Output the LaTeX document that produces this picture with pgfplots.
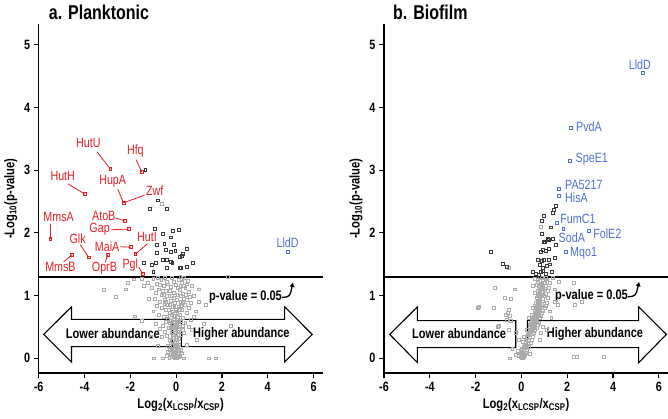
\documentclass[border=0pt]{standalone}
\usepackage{fontspec}
\setmainfont[FakeStretch=0.8]{Liberation Sans}
\usepackage{pgfplots}
\pgfplotsset{compat=1.18}
\usetikzlibrary{arrows.meta}
\definecolor{sigred}{RGB}{228,30,36}
\definecolor{sigblue}{RGB}{80,110,215}
\definecolor{ptgrey}{RGB}{170,170,170}
\definecolor{ptdark}{RGB}{55,55,55}
\pgfplotsset{
 volc/.style={
  scale only axis, width=284pt, height=349.2pt,
  xmin=-6, xmax=6.4, ymin=-0.24, ymax=5.33,
  axis x line*=bottom, axis y line*=left,
  axis line style={line width=1.6pt},
  xtick={-6,-4,...,6}, ytick={0,...,5},
  tick align=outside, major tick length=5pt,
  tick style={line width=1.2pt, black},
  ticklabel style={font=\bfseries\fontsize{13.5}{14}\selectfont},
  /pgf/number format/assume math mode=true,
  xlabel={Log\textsubscript{2}(x\textsubscript{LCSP}/x\textsubscript{CSP})},
  ylabel={-Log\textsubscript{10}(p-value)},
  label style={font=\bfseries\fontsize{14}{15}\selectfont},
  clip=false,
 },
 gpt/.style={only marks, mark=square, mark size=1.45pt, mark options={ptgrey, line width=0.5pt}},
 dpt/.style={only marks, mark=square, mark size=1.45pt, mark options={ptdark, line width=0.5pt}},
 rpt/.style={only marks, mark=square, mark size=1.45pt, mark options={sigred, line width=0.7pt}},
 bpt/.style={only marks, mark=square, mark size=1.45pt, mark options={sigblue, line width=0.7pt}},
}
\tikzset{
 glab/.style={font=\fontsize{13.4}{14}\selectfont, inner sep=0pt},
 arr/.style={draw=black, line width=1.1pt},
 atxt/.style={font=\bfseries\fontsize{13.8}{15}\selectfont},
}
\begin{document}
\begin{tikzpicture}
\useasboundingbox (-38.7pt,-45.7pt) rectangle (629.3pt,373.3pt);
% ---------------- Panel a ----------------
\begin{axis}[volc]
\draw[arr] (axis cs:-5.78,0.38) -- (axis cs:-4.57,0.82) -- (axis cs:-4.57,0.62) -- (axis cs:-0.17,0.62) -- (axis cs:-0.17,0.185) -- (axis cs:-4.57,0.185) -- (axis cs:-4.57,-0.06) -- cycle;
\draw[arr] (axis cs:0.23,0.62) -- (axis cs:4.74,0.62) -- (axis cs:4.74,0.82) -- (axis cs:5.94,0.38) -- (axis cs:4.74,-0.06) -- (axis cs:4.74,0.185) -- (axis cs:0.23,0.185) -- cycle;
\addplot[gpt] coordinates {
(-0.05,0.00) (-0.12,0.02) (0.03,0.01) (-0.20,0.03) (0.10,0.02) (-0.30,0.01) (0.18,0.04) (-0.08,0.05) (0.00,0.07) (-0.15,0.08) (0.06,0.09) (-0.25,0.06) (-0.02,0.11) (-0.10,0.13) (0.12,0.12) (-0.18,0.15) (0.04,0.16) (-0.35,0.10) (0.22,0.14) (-0.06,0.18) (-0.13,0.20) (0.08,0.19) (-0.40,0.04) (-0.98,0.00) (1.42,0.00) (1.72,0.00) (-0.60,0.00) (0.35,0.00)
(-0.22,0.24) (-0.05,0.25) (0.05,0.27) (-0.30,0.30) (0.12,0.31) (-0.12,0.33) (-0.40,0.36) (0.00,0.35) (0.20,0.38) (-0.20,0.40) (-0.50,0.42) (0.08,0.43) (-0.08,0.45) (0.30,0.46) (-0.32,0.48) (0.15,0.50) (-0.60,0.52) (-0.15,0.53) (0.02,0.55) (0.40,0.56) (-0.45,0.58) (-0.25,0.60) (0.22,0.59) (-0.70,0.47) (-0.90,0.55) (0.55,0.50) (0.70,0.45) (-1.10,0.35) (0.90,0.30) (2.37,0.52) (-0.80,0.20) (0.45,0.22) (-1.50,0.60) (1.20,0.55)
(-0.35,0.63) (0.05,0.62) (0.30,0.65) (-0.55,0.66) (-0.10,0.68) (0.15,0.70) (-0.75,0.70) (0.45,0.72) (-0.28,0.73) (0.00,0.75) (-0.45,0.77) (0.25,0.78) (-0.62,0.80) (0.55,0.80) (-0.15,0.82) (0.10,0.83) (-0.85,0.84) (0.38,0.85) (-0.38,0.86) (-0.05,0.88) (0.65,0.88) (-0.70,0.90) (0.20,0.90) (-0.22,0.92) (-0.50,0.94) (0.48,0.94) (0.99,0.90) (0.77,0.66) (-1.81,0.67) (-1.00,0.75) (0.85,0.75) (-1.20,0.95) (1.30,0.85) (-2.65,0.98)
(-0.30,1.00) (0.05,1.01) (-0.65,1.02) (0.30,1.03) (-0.90,1.04) (-0.12,1.05) (0.55,1.06) (-0.45,1.08) (0.15,1.09) (-0.75,1.10) (-1.05,1.12) (0.40,1.12) (-0.22,1.14) (0.70,1.15) (-0.55,1.16) (-0.02,1.17) (-0.85,1.19) (0.25,1.20) (-1.25,1.21) (-0.40,1.22) (0.50,1.23) (-0.65,1.25) (0.10,1.25) (-1.00,1.27) (-0.18,1.28) (0.35,1.28) (-2.10,1.21) (-1.85,1.26) (-1.50,1.27) (-3.16,1.09) (-2.21,1.10) (0.26,1.26) (-0.80,1.29) (2.27,1.30) (0.99,1.10) (0.75,1.00) (-1.40,1.15)
(-0.18,0.55) (0.12,0.58) (-0.05,0.48) (0.28,0.52) (-0.28,0.85) (0.32,0.95) (-0.10,0.96) (0.42,1.02) (-0.35,1.18) (0.18,1.15) (-0.60,1.08) (0.60,0.98) (-0.42,0.99) (-0.02,0.78) (-0.20,0.70) (0.35,0.40) (-0.35,0.20) (0.12,0.22) (-0.02,0.40) (-0.12,0.62) (0.08,0.66) (-0.40,0.66) (0.20,0.84) (-0.52,0.87) (-0.72,1.17) (0.48,1.18) (-0.95,0.95) (0.62,0.62) (-0.62,0.35) (0.25,0.08) (-0.28,0.14) (0.14,0.04)
(-0.08,0.22) (0.02,0.30) (-0.16,0.28) (0.07,0.37) (-0.10,0.38) (-0.03,0.52) (0.10,0.47) (-0.22,0.48) (-0.07,0.58) (0.18,0.64) (-0.30,0.56) (-0.14,0.75) (0.05,0.72) (-0.33,0.78) (0.14,0.78) (-0.08,0.82) (0.28,0.88) (-0.45,0.90) (0.02,0.93) (-0.18,0.99) (0.22,1.00) (-0.52,1.02) (0.08,1.12) (-0.28,1.08) (0.35,1.15) (-0.12,1.22) (-0.48,1.28) (0.18,1.30) (0.02,0.20) (-0.24,0.10)
(-0.64,2.47)
};
\addplot[dpt] coordinates {
(-1.35,3.00) (-0.80,2.52) (-1.17,2.38) (-0.39,2.38) (-0.57,1.99) (-0.13,2.03) (0.13,2.05) (-0.22,1.93) (-0.93,2.07) (-0.52,1.83) (-0.86,1.81) (-0.10,1.81) (-0.86,1.68) (-0.47,1.73) (-0.25,1.70) (-0.04,1.72) (0.23,1.63) (0.48,1.74) (0.16,1.62) (-0.57,1.57) (-0.39,1.57) (-0.25,1.54) (-0.17,1.53) (0.29,1.66) (-1.41,1.52) (-1.05,1.49) (-0.87,1.52) (0.74,1.52) (0.48,1.46) (0.16,1.44) (-0.39,1.44) (-1.00,1.38) (0.19,1.44)
};
\addplot[rpt] coordinates {
(-2.87,3.02) (-1.50,2.97) (-3.99,2.62) (-2.30,2.48) (-2.28,2.47) (-5.49,1.90) (-2.24,2.19) (-2.07,2.06) (-3.82,1.61) (-1.97,1.77) (-1.78,1.66) (-4.54,1.65) (-2.99,1.65) (-1.44,1.34)
};
\addplot[bpt] coordinates {(4.87,1.70)};
\begin{scope}[sigred, line width=0.8pt]
\draw (axis cs:-3.45,3.29) -- (axis cs:-2.87,3.02);
\draw (axis cs:-1.75,3.17) -- (axis cs:-1.50,2.97);
\draw (axis cs:-4.72,2.78) -- (axis cs:-3.99,2.62);
\draw (axis cs:-2.55,2.70) -- (axis cs:-2.30,2.48);
\draw (axis cs:-1.38,2.60) -- (axis cs:-2.30,2.48);
\draw (axis cs:-5.49,2.14) -- (axis cs:-5.49,1.90);
\draw (axis cs:-2.65,2.24) -- (axis cs:-2.24,2.19);
\draw (axis cs:-2.83,2.05) -- (axis cs:-2.07,2.06);
\draw (axis cs:-4.18,1.81) -- (axis cs:-3.82,1.61);
\draw (axis cs:-2.43,1.78) -- (axis cs:-1.97,1.77);
\draw (axis cs:-1.24,1.83) -- (axis cs:-1.78,1.66);
\draw (axis cs:-4.91,1.54) -- (axis cs:-4.54,1.65);
\draw (axis cs:-3.09,1.53) -- (axis cs:-2.99,1.65);
\draw (axis cs:-1.63,1.45) -- (axis cs:-1.44,1.34);
\end{scope}
\begin{scope}[every node/.style={glab, text=sigred}]
\node at (axis cs:-3.83,3.43) {HutU};
\node at (axis cs:-1.78,3.30) {Hfq};
\node at (axis cs:-4.95,2.91) {HutH};
\node at (axis cs:-2.77,2.82) {HupA};
\node at (axis cs:-0.93,2.67) {Zwf};
\node at (axis cs:-5.13,2.25) {MmsA};
\node at (axis cs:-3.16,2.27) {AtoB};
\node at (axis cs:-3.34,2.06) {Gap};
\node at (axis cs:-4.30,1.91) {Glk};
\node at (axis cs:-3.01,1.78) {MaiA};
\node at (axis cs:-1.27,1.94) {HutI};
\node at (axis cs:-5.05,1.46) {MmsB};
\node at (axis cs:-3.13,1.43) {OprB};
\node at (axis cs:-2.00,1.49) {Pgl};
\end{scope}
\node[glab, text=sigblue] at (axis cs:4.87,1.85) {LldD};
\addplot[black, line width=1.8pt] coordinates {(-6,1.301) (6.4,1.301)};
\node[atxt] at (axis cs:-2.76,0.39) {Lower abundance};
\node[atxt] at (axis cs:2.85,0.39) {Higher abundance};
\node[atxt] at (axis cs:3.03,0.98) {p-value = 0.05};
\draw[line width=1.3pt, -{Latex[length=4.5pt,width=5.5pt]}] (axis cs:4.62,0.97) .. controls (axis cs:4.97,0.98) .. (axis cs:5.1,1.21);
\node[anchor=west, font=\bfseries\fontsize{20}{22}\selectfont, inner sep=0pt] at ([xshift=10pt,yshift=12pt]rel axis cs:0,1) {a. Planktonic};
\end{axis}
% ---------------- Panel b ----------------
\begin{axis}[volc, at={(345.3pt,0pt)}]
\draw[arr] (axis cs:-5.75,0.38) -- (axis cs:-4.54,0.82) -- (axis cs:-4.54,0.60) -- (axis cs:-0.25,0.60) -- (axis cs:-0.25,0.17) -- (axis cs:-4.54,0.17) -- (axis cs:-4.54,-0.07) -- cycle;
\draw[arr] (axis cs:0.26,0.60) -- (axis cs:5.12,0.60) -- (axis cs:5.12,0.82) -- (axis cs:6.33,0.38) -- (axis cs:5.12,-0.07) -- (axis cs:5.12,0.17) -- (axis cs:0.26,0.17) -- cycle;
\addplot[gpt] coordinates {
(0.02,0.00) (0.08,0.01) (-0.05,0.02) (0.12,0.03) (0.00,0.05) (0.15,0.06) (-0.10,0.04) (0.05,0.08) (0.20,0.09) (-0.02,0.10) (0.10,0.12) (0.25,0.13) (0.03,0.15) (0.18,0.16) (-0.15,0.12) (0.30,0.18) (0.08,0.19) (-0.25,0.06) (0.35,0.07) (-0.40,0.15) (2.28,0.03) (2.42,0.03) (3.60,0.03) (-0.50,0.00)
(0.15,0.22) (0.28,0.23) (0.40,0.25) (0.20,0.27) (0.33,0.29) (0.45,0.30) (0.25,0.32) (0.38,0.34) (0.50,0.35) (0.30,0.37) (0.42,0.39) (0.55,0.40) (0.35,0.42) (0.48,0.43) (0.60,0.45) (0.40,0.46) (0.52,0.48) (0.65,0.49) (0.44,0.50) (0.57,0.52) (0.70,0.53) (0.48,0.55) (0.60,0.56) (0.75,0.57) (0.52,0.58) (0.65,0.59) (0.10,0.35) (0.22,0.45) (0.85,0.40) (0.95,0.50) (1.10,0.45) (-0.25,0.40) (-0.55,0.45) (-1.02,0.50) (-0.98,0.52) (0.80,0.30) (0.05,0.26) (-0.10,0.30)
(0.55,0.62) (0.68,0.63) (0.80,0.64) (0.58,0.66) (0.72,0.67) (0.85,0.68) (0.62,0.70) (0.75,0.71) (0.90,0.72) (0.65,0.74) (0.78,0.75) (0.95,0.76) (0.68,0.78) (0.82,0.79) (1.00,0.80) (0.70,0.82) (0.85,0.83) (1.05,0.84) (0.72,0.86) (0.88,0.87) (1.10,0.88) (0.75,0.90) (0.92,0.91) (0.78,0.94) (0.95,0.95) (1.15,0.96) (0.80,0.98) (0.98,0.99) (0.50,0.80) (0.45,0.70) (1.25,0.75) (1.45,0.90) (1.60,0.85) (2.33,0.86) (2.62,0.90) (1.30,0.65) (-0.61,0.72) (-0.70,0.70) (-0.50,0.68) (-0.65,0.62) (-0.45,0.60) (-0.55,0.78) (-0.73,0.96) (-0.45,0.95) (-1.20,0.80) (-1.89,0.80) (-1.85,0.82) (-1.17,1.13) (0.30,0.65)
(0.75,1.01) (0.90,1.02) (1.05,1.03) (0.80,1.05) (0.95,1.06) (1.15,1.07) (0.70,1.08) (0.85,1.10) (1.00,1.11) (1.20,1.12) (0.78,1.14) (0.92,1.15) (1.08,1.16) (0.65,1.17) (0.88,1.19) (1.02,1.20) (1.25,1.21) (0.72,1.22) (0.82,1.24) (0.95,1.25) (1.12,1.26) (0.60,1.27) (0.78,1.28) (0.90,1.29) (1.05,1.29) (1.63,1.22) (2.27,1.21) (1.45,1.10) (0.50,1.15) (0.60,1.05) (-0.30,1.10) (1.35,1.28)
(0.18,0.30) (0.26,0.38) (0.36,0.48) (0.45,0.58) (0.52,0.66) (0.60,0.76) (0.66,0.84) (0.72,0.92) (0.80,1.08) (0.85,1.18) (0.14,0.20) (0.32,0.40) (0.40,0.55) (0.56,0.72) (0.63,0.88) (0.70,1.00) (0.76,1.16) (0.10,0.07) (0.00,0.13) (-0.07,0.08)
(0.22,0.20) (0.30,0.28) (0.38,0.44) (0.46,0.52) (0.55,0.54) (0.62,0.64) (0.70,0.72) (0.74,0.80) (0.80,0.86) (0.82,0.94) (0.86,1.00) (0.88,1.06) (0.94,1.12) (0.96,1.20) (0.70,1.25) (0.58,0.84) (0.48,0.64) (0.34,0.54) (0.68,0.96) (1.02,1.08)
(0.84,2.10) (-0.55,1.45)
};
\addplot[dpt] coordinates {
(-1.34,1.70) (-0.83,1.51) (-0.66,1.46) (1.50,2.43) (1.42,2.37) (1.35,2.32) (0.99,2.27) (0.89,2.19) (1.28,2.09) (1.03,1.85) (1.20,1.89) (0.84,1.70) (1.06,1.72) (1.20,1.74) (0.87,1.55) (1.20,1.57) (0.70,1.57) (0.80,1.49) (0.92,1.45) (0.48,1.38) (0.84,1.38) (1.32,1.38) (0.89,1.99) (1.16,1.91) (0.99,1.86) (1.38,1.91) (1.50,1.81) (0.92,1.73) (1.45,1.61) (0.99,1.57) (0.95,1.40) (1.05,1.35) (0.75,1.33) (0.62,1.35) (1.10,1.47) (1.25,1.50)
};
\addplot[bpt] coordinates {
(5.31,4.55) (2.15,3.68) (2.10,3.15) (1.64,2.70) (1.64,2.59) (1.54,2.16) (1.83,2.06) (2.95,2.03) (1.93,1.69)
};
\begin{scope}[every node/.style={glab, text=sigblue}]
\node at (axis cs:5.17,4.69) {LldD};
\node[anchor=west] at (axis cs:2.38,3.70) {PvdA};
\node[anchor=west] at (axis cs:2.36,3.17) {SpeE1};
\node[anchor=west] at (axis cs:1.90,2.76) {PA5217};
\node[anchor=west] at (axis cs:1.90,2.56) {HisA};
\node[anchor=west] at (axis cs:1.69,2.23) {FumC1};
\node at (axis cs:2.20,1.92) {SodA};
\node[anchor=west] at (axis cs:3.13,1.99) {FolE2};
\node[anchor=west] at (axis cs:2.12,1.68) {Mqo1};
\end{scope}
\addplot[black, line width=1.8pt] coordinates {(-6,1.301) (6.4,1.301)};
\node[atxt] at (axis cs:-2.72,0.39) {Lower abundance};
\node[atxt] at (axis cs:3.21,0.39) {Higher abundance};
\node[atxt] at (axis cs:3.06,0.99) {p-value = 0.05};
\draw[line width=1.3pt, -{Latex[length=4.5pt,width=5.5pt]}] (axis cs:4.64,0.98) .. controls (axis cs:4.99,0.99) .. (axis cs:5.14,1.22);
\node[anchor=west, font=\bfseries\fontsize{20}{22}\selectfont, inner sep=0pt] at ([xshift=9pt,yshift=12pt]rel axis cs:0,1) {b. Biofilm};
\end{axis}
\end{tikzpicture}
\end{document}
